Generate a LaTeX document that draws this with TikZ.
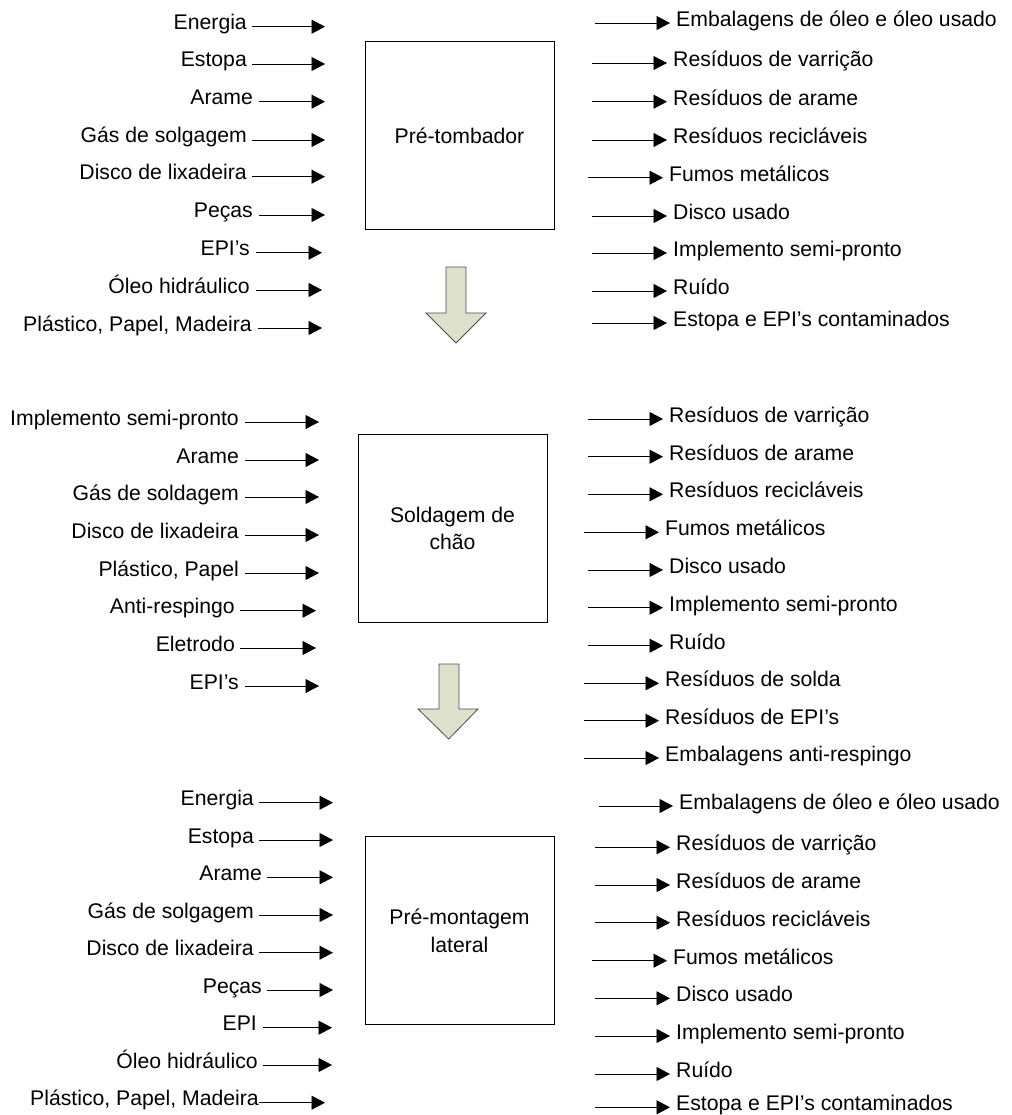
\documentclass[tikz,border=0pt]{standalone}
\usepackage{fontspec}
\setmainfont{Liberation Sans}
\usetikzlibrary{arrows.meta}

\tikzset{
  lab/.style={inner sep=0pt, font=\fontsize{21.2}{26}\selectfont},
  flow/.style={line width=0.9pt, -{Triangle[length=13.5pt,width=14pt]}},
  procbox/.style={draw, line width=1pt, minimum width=189pt, minimum height=188pt,
    inner sep=0pt, align=center, font=\fontsize{21.2}{27.6}\selectfont},
  stagearrow/.style={draw=black!70, line width=0.8pt,
    fill={rgb,255:red,221;green,225;blue,203}}
}

% input row: name, text, text right edge, line start, tip, line y
\newcommand\inrow[6]{%
  \coordinate (#1s) at (#4,#6);
  \coordinate (#1t) at (#5,#6);
  \node[lab, anchor=base east] (#1) at (#3,{#6+3}) {#2};
  \draw[flow] (#1s) -- (#1t);
}
% output row: name, text, line start, tip, line y
\newcommand\outrow[5]{%
  \coordinate (#1s) at (#3,#5);
  \coordinate (#1t) at (#4,#5);
  \node[lab, anchor=base west] (#1) at ({#4+6},{#5+3.5}) {#2};
  \draw[flow] (#1s) -- (#1t);
}

\begin{document}
\begin{tikzpicture}[x=1pt, y=-1pt]
\useasboundingbox (0,0) rectangle (1011,1115);

% ---------- Stage 1: Pré-tombador ----------
\node[procbox] (p1) at (459.5,136) {Pré-tombador};

\inrow{a1}{Energia}{247}{252}{325}{26.7}
\inrow{a2}{Estopa}{247}{252}{325}{64}
\inrow{a3}{Arame}{253}{259}{325}{101.7}
\inrow{a4}{Gás de solgagem}{247}{252}{325}{140}
\inrow{a5}{Disco de lixadeira}{247}{252}{325}{176.7}
\inrow{a6}{Peças}{253}{259}{325}{215}
\inrow{a7}{EPI’s}{250}{256}{322}{252.7}
\inrow{a8}{Óleo hidráulico}{250}{256}{322}{290}
\inrow{a9}{Plástico, Papel, Madeira}{252}{258}{322}{328}

\outrow{b1}{Embalagens de óleo e óleo usado}{595}{670}{23}
\outrow{b2}{Resíduos de varrição}{592}{667}{63}
\outrow{b3}{Resíduos de arame}{592}{667}{101.7}
\outrow{b4}{Resíduos recicláveis}{592}{667}{140}
\outrow{b5}{Fumos metálicos}{588}{663}{177.7}
\outrow{b6}{Disco usado}{592}{667}{216}
\outrow{b7}{Implemento semi-pronto}{592}{667}{253}
\outrow{b8}{Ruído}{592}{667}{291}
\outrow{b9}{Estopa e EPI’s contaminados}{592}{667}{323}

\draw[stagearrow] (446,267) -- (466,267) -- (466,313) -- (486,313)
  -- (456,343) -- (426,313) -- (446,313) -- cycle;

% ---------- Stage 2: Soldagem de chão ----------
\node[procbox] (p2) at (452.5,528.5) {Soldagem de\\chão};

\inrow{c1}{Implemento semi-pronto}{239}{245}{319}{422}
\inrow{c2}{Arame}{239}{245}{319}{460}
\inrow{c3}{Gás de soldagem}{239}{245}{319}{497}
\inrow{c4}{Disco de lixadeira}{239}{245}{319}{535}
\inrow{c5}{Plástico, Papel}{239}{245}{319}{573}
\inrow{c6}{Anti-respingo}{235}{240}{316}{610.7}
\inrow{c7}{Eletrodo}{235}{240}{316}{648}
\inrow{c8}{EPI’s}{239}{245}{319}{686}

\outrow{d1}{Resíduos de varrição}{588}{663}{419}
\outrow{d2}{Resíduos de arame}{588}{663}{456.7}
\outrow{d3}{Resíduos recicláveis}{588}{663}{494.3}
\outrow{d4}{Fumos metálicos}{584}{659}{532.3}
\outrow{d5}{Disco usado}{588}{663}{570}
\outrow{d6}{Implemento semi-pronto}{588}{663}{607.7}
\outrow{d7}{Ruído}{588}{663}{645.7}
\outrow{d8}{Resíduos de solda}{584}{659}{683.3}
\outrow{d9}{Resíduos de EPI’s}{584}{659}{720.7}
\outrow{d10}{Embalagens anti-respingo}{584}{659}{758}

\draw[stagearrow] (439,664) -- (459,664) -- (459,709) -- (478,709)
  -- (448.7,739) -- (418,709) -- (439,709) -- cycle;

% ---------- Stage 3: Pré-montagem lateral ----------
\node[procbox] (p3) at (459.5,930.5) {Pré-montagem\\lateral};

\inrow{e1}{Energia}{254}{259}{333}{802.7}
\inrow{e2}{Estopa}{254}{259}{333}{840}
\inrow{e3}{Arame}{262}{267}{333}{877.3}
\inrow{e4}{Gás de solgagem}{254}{259}{333}{915}
\inrow{e5}{Disco de lixadeira}{254}{259}{333}{952.7}
\inrow{e6}{Peças}{262}{267}{333}{990}
\inrow{e7}{EPI}{257}{263}{332}{1027.7}
\inrow{e8}{Óleo hidráulico}{258}{263}{332}{1065}
\inrow{e9}{Plástico, Papel, Madeira}{259}{259}{325}{1102.7}

\outrow{f1}{Embalagens de óleo e óleo usado}{599}{673}{806}
\outrow{f2}{Resíduos de varrição}{595}{670}{847.3}
\outrow{f3}{Resíduos de arame}{595}{670}{885}
\outrow{f4}{Resíduos recicláveis}{595}{670}{922.7}
\outrow{f5}{Fumos metálicos}{592}{667}{960.7}
\outrow{f6}{Disco usado}{595}{670}{998.3}
\outrow{f7}{Implemento semi-pronto}{595}{670}{1036}
\outrow{f8}{Ruído}{595}{670}{1074}
\outrow{f9}{Estopa e EPI’s contaminados}{595}{670}{1107.3}

\end{tikzpicture}
\end{document}
